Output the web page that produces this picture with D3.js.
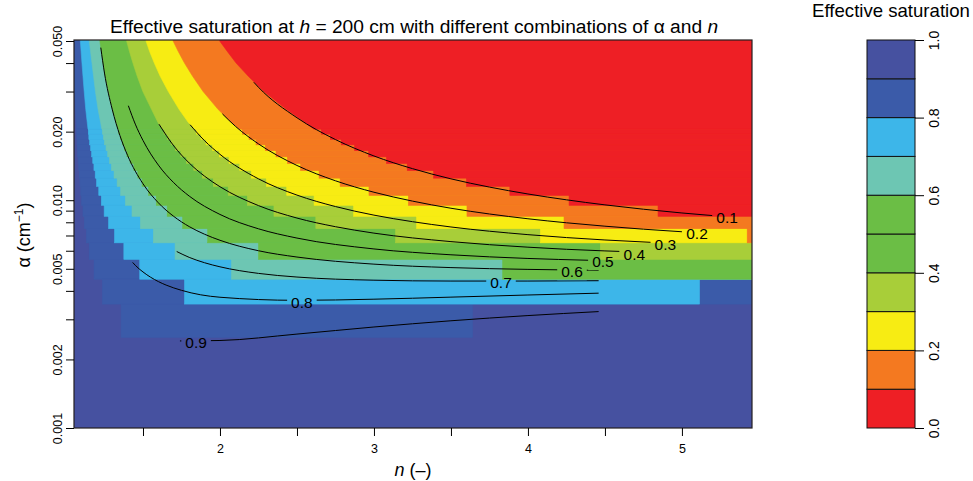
<!DOCTYPE html>
<html>
<head>
<meta charset="utf-8">
<script src="https://cdn.jsdelivr.net/npm/d3@7"></script>
<style>
body { margin: 0; background: #fff; }
text { font-family: "Liberation Sans", Arial, sans-serif; }
</style>
</head>
<body>
<div id="chart"></div>
<script>
// Effective saturation classes (0-0.1 ... 0.9-1.0)
var bandBreaks = [0, 0.1, 0.2, 0.3, 0.4, 0.5, 0.6, 0.7, 0.8, 0.9, 1.0];
var bandColors = ["#ee1f25", "#f47920", "#f7ec13", "#a8ce39", "#6bbe45",
                  "#6bbe45", "#6dc6b3", "#3db6e9", "#3b5ba9", "#4651a0"];
var barTicks = [0, 0.2, 0.4, 0.6, 0.8, 1.0];

// axes
var xTicks = [1.5, 2, 2.5, 3, 3.5, 4, 4.5, 5];
var yTicks = [0.001, 0.002, 0.003, 0.004, 0.005, 0.006, 0.007, 0.008, 0.009,
              0.01, 0.02, 0.03, 0.04, 0.05];
var yLabelled = [0.001, 0.002, 0.005, 0.01, 0.02, 0.05];

// filled classes: boundary of "Se < level", upper smooth part [n, alpha]
// and the stepped rows below it [alpha row, n from, (n to)]
var top09 = [[1.052,0.05],[1.052,0.036],[1.0562,0.03],[1.0618,0.025],[1.066,0.022],[1.068,0.0205]];
var rows09 = [[0.020,1.0685],[0.019,1.0701],[0.018,1.0717],[0.017,1.0734],[0.016,1.0755],[0.015,1.079],
  [0.014,1.0827],[0.013,1.0868],[0.012,1.0911],[0.011,1.0958],[0.010,1.1015],[0.009,1.1102],
  [0.008,1.1198],[0.007,1.1331],[0.006,1.1511],[0.005,1.1822],[0.004,1.2374],[0.003,1.3577,3.6394]];

var top08 = [[1.093,0.05],[1.0982,0.045],[1.1036,0.04],[1.1103,0.035],[1.1182,0.03],[1.1285,0.025],[1.1378,0.022],[1.143,0.0205]];
var rows08 = [[0.020,1.1448],[0.019,1.1485],[0.018,1.1537],[0.017,1.16],[0.016,1.1667],[0.015,1.1739],
  [0.014,1.1815],[0.013,1.1897],[0.012,1.1986],[0.011,1.2129],[0.010,1.2294],[0.009,1.2478],
  [0.008,1.2764],[0.007,1.3154],[0.006,1.3758],[0.005,1.479],[0.004,1.7696,5.1141]];

var top07 = [[1.1513,0.05],[1.1595,0.045],[1.1687,0.04],[1.1792,0.035],[1.1912,0.03],[1.2087,0.025],[1.2247,0.022],[1.233,0.0205]];
var rows07 = [[0.020,1.2366],[0.019,1.2431],[0.018,1.2498],[0.017,1.2601],[0.016,1.2712],[0.015,1.2829],
  [0.014,1.2954],[0.013,1.3122],[0.012,1.3321],[0.011,1.3549],[0.010,1.386],[0.009,1.4287],
  [0.008,1.4831],[0.007,1.5673],[0.006,1.7085],[0.005,2.075]];

var top06 = [[1.2198,0.05],[1.2296,0.045],[1.2406,0.04],[1.2545,0.035],[1.2756,0.03],[1.3008,0.025],[1.3249,0.022],[1.338,0.0205]];
var rows06 = [[0.020,1.3428],[0.019,1.3533],[0.018,1.3667],[0.017,1.3808],[0.016,1.3958],[0.015,1.4166],
  [0.014,1.4407],[0.013,1.4665],[0.012,1.4944],[0.011,1.5368],[0.010,1.5862],[0.009,1.6572],
  [0.008,1.7577],[0.007,1.9201],[0.006,2.2504],[0.005,3.836]];

var top04 = [[1.3938,0.05],[1.4122,0.045],[1.4347,0.04],[1.4627,0.035],[1.4992,0.03],[1.5563,0.025],[1.5965,0.022],[1.625,0.0205]];
var rows04 = [[0.020,1.6368],[0.019,1.6592],[0.018,1.6829],[0.017,1.7104],[0.016,1.7457],[0.015,1.7832],
  [0.014,1.83],[0.013,1.8854],[0.012,1.9566],[0.011,2.0532],[0.010,2.178],[0.009,2.3506],
  [0.008,2.6225],[0.007,3.1402],[0.006,4.4698]];

var top03 = [[1.5196,0.05],[1.5432,0.045],[1.5735,0.04],[1.6119,0.035],[1.6645,0.03],[1.7354,0.025],[1.7933,0.022],[1.835,0.0205]];
var rows03 = [[0.020,1.8467],[0.019,1.8766],[0.018,1.91],[0.017,1.9514],[0.016,1.9954],[0.015,2.0588],
  [0.014,2.1284],[0.013,2.2032],[0.012,2.3013],[0.011,2.4337],[0.010,2.6112],[0.009,2.8679],
  [0.008,3.277],[0.007,4.081]];

var top02 = [[1.6957,0.05],[1.7291,0.045],[1.7695,0.04],[1.8224,0.035],[1.8905,0.03],[1.9887,0.025],[2.0723,0.022],[2.127,0.0205]];
var rows02 = [[0.020,2.1456],[0.019,2.1888],[0.018,2.2343],[0.017,2.2942],[0.016,2.3639],[0.015,2.438],
  [0.014,2.5242],[0.013,2.6436],[0.012,2.7803],[0.011,2.9677],[0.010,3.2237],[0.009,3.6041],
  [0.008,4.2343],[0.007,5.4237]];

var top01 = [[1.998,0.05],[2.0477,0.045],[2.1047,0.04],[2.1841,0.035],[2.285,0.03],[2.4327,0.025],[2.5507,0.022],[2.61,0.0205]];
var rows01 = [[0.020,2.6588],[0.019,2.717],[0.018,2.7877],[0.017,2.8742],[0.016,2.9659],[0.015,3.0817],
  [0.014,3.2159],[0.013,3.3878],[0.012,3.6012],[0.011,3.8826],[0.010,4.2671],[0.009,4.8449]];

// contour lines [n, alpha]
var c01 = [[2.22,0.03294],[2.25,0.03132],[2.5,0.02301],[2.75,0.01846],[3,0.01564],[3.25,0.01376],[3.5,0.01241],
  [3.75,0.01142],[4,0.01065],[4.25,0.01004],[4.5,0.00954],[4.75,0.00913],[5,0.00879],[5.2,0.00856]];
var c02 = [[2.016,0.02393],[2.1,0.02112],[2.25,0.01767],[2.5,0.01421],[2.75,0.01217],[3,0.01084],[3.25,0.00991],
  [3.5,0.00922],[3.75,0.0087],[4,0.00829],[4.25,0.00796],[4.5,0.00769],[4.75,0.00746],[5,0.00727]];
var c03 = [[1.806,0.02145],[1.9,0.01825],[2,0.0159],[2.25,0.01241],[2.5,0.01053],[2.75,0.00938],[3,0.0086],
  [3.25,0.00805],[3.5,0.00763],[4,0.00706],[4.5,0.00669],[4.806,0.00653]];
var c04 = [[1.604,0.02156],[1.7,0.01731],[1.8,0.01457],[1.9,0.01275],[2,0.01146],[2.25,0.00947],[2.5,0.00835],
  [2.75,0.00765],[3,0.00717],[3.5,0.00658],[4,0.00622],[4.5,0.00599],[4.595,0.00596]];
var c05 = [[1.405,0.02599],[1.45,0.02158],[1.5,0.0183],[1.6,0.01426],[1.7,0.01193],[1.8,0.01043],[2,0.00866],
  [2.25,0.00749],[2.5,0.00682],[3,0.00611],[3.5,0.00576],[4,0.00555],[4.394,0.00545]];
var c06 = [[1.226,0.04677],[1.25,0.03616],[1.3,0.02511],[1.35,0.01925],[1.4,0.01573],[1.5,0.01181],[1.6,0.00974],
  [1.7,0.00849],[1.8,0.00766],[1.9,0.00709],[2,0.00667],[2.25,0.006],[2.5,0.00563],[3,0.00524],[3.5,0.00506],
  [4,0.00497],[4.459,0.00492]];
var c07 = [[1.719,0.005954],[1.8,0.005612],[1.9,0.005315],[2,0.005101],[2.25,0.004772],[2.5,0.0046],[3,0.004455],
  [3.5,0.004417],[4,0.004417],[4.459,0.004432]];
var c08 = [[1.433,0.005332],[1.45,0.005179],[1.5,0.004843],[1.55,0.004589],[1.6,0.004393],[1.65,0.004241],
  [1.75,0.004022],[2,0.00375],[2.5,0.003635],[3,0.003677],[3.5,0.003754],[4,0.003836],[4.459,0.003908]];
var c09 = [[1.74,0.002411],[2,0.002422],[2.5,0.002584],[3,0.002776],[3.5,0.002956],[4,0.003116],[4.459,0.003244]];

// contour labels [text, n, alpha]
var contourLabels = [["0.1",5.293,0.008413],["0.2",5.098,0.007157],["0.3",4.892,0.006404],["0.4",4.691,0.005788],
  ["0.5",4.487,0.005372],["0.6",4.286,0.004855],["0.7",3.825,0.004343],["0.8",2.532,0.003563],["0.9",1.845,0.002368]];

var fills = [
  {lev: 0.9, top: top09, rows: rows09},
  {lev: 0.8, top: top08, rows: rows08},
  {lev: 0.7, top: top07, rows: rows07},
  {lev: 0.6, top: top06, rows: rows06},
  {lev: 0.4, top: top04, rows: rows04},
  {lev: 0.3, top: top03, rows: rows03},
  {lev: 0.2, top: top02, rows: rows02},
  {lev: 0.1, top: top01, rows: rows01}
];
var contours = [c01, c02, c03, c04, c05, c06, c07, c08, c09];

var w = 973, h = 481;
var nMin = 1.052, nMax = 5.455;
var halfRow = 0.0005;
var fontFam = "Liberation Sans, Arial, sans-serif";

var svg = d3.select("#chart").append("svg").attr("width", w).attr("height", h);
var defs = svg.append("defs");

var x = d3.scaleLinear().domain([nMin, nMax]).range([74, 752]);
var y = d3.scaleLog().domain([0.001, 0.05]).range([428, 41]);

defs.append("clipPath").attr("id", "plotclip")
  .append("rect").attr("x", 74).attr("y", 40).attr("width", 678).attr("height", 388);

var plot = svg.append("g").attr("clip-path", "url(#plotclip)");
plot.append("rect").attr("x", 74).attr("y", 40).attr("width", 678).attr("height", 388)
  .attr("fill", bandColors[9]);

var pline = d3.line().x(function(d) { return x(d[0]); }).y(function(d) { return y(d[1]); });

// paint each "Se < level" region on top of the previous one
fills.forEach(function(f) {
  var col = bandColors[Math.round(f.lev * 10) - 1];
  var last = f.top[f.top.length - 1];
  var poly = [[f.top[0][0], 0.051]].concat(f.top, [[nMax + 0.1, last[1]], [nMax + 0.1, 0.051]]);
  plot.append("path").attr("d", pline(poly) + "Z")
    .attr("fill", col).attr("stroke", col).attr("stroke-width", 0.6);
  plot.append("g").selectAll("rect").data(f.rows).enter().append("rect")
    .attr("x", function(d) { return x(d[1]); })
    .attr("width", function(d) { return x(d.length > 2 ? d[2] : nMax + 0.1) - x(d[1]); })
    .attr("y", function(d) { return y(d[0] + halfRow); })
    .attr("height", function(d) { return y(d[0] - halfRow) - y(d[0] + halfRow); })
    .attr("fill", col).attr("stroke", col).attr("stroke-width", 0.6);
});

// contour labels (drawn first so the mask can be sized from them)
var lblG = svg.append("g");
contourLabels.forEach(function(l) {
  lblG.append("text").attr("x", x(l[1])).attr("y", y(l[2])).attr("dy", "0.36em")
    .attr("text-anchor", "middle").attr("font-size", 15.5).attr("fill", "#000").text(l[0]);
});

var mask = defs.append("mask").attr("id", "lblmask").attr("maskUnits", "userSpaceOnUse")
  .attr("x", 0).attr("y", 0).attr("width", w).attr("height", h);
mask.append("rect").attr("x", 0).attr("y", 0).attr("width", w).attr("height", h).attr("fill", "#fff");
lblG.selectAll("text").each(function() {
  var b = this.getBBox();
  mask.append("rect").attr("x", b.x - 4).attr("y", b.y).attr("width", b.width + 8).attr("height", b.height)
    .attr("fill", "#000");
});

var cline = d3.line().x(function(d) { return x(d[0]); }).y(function(d) { return y(d[1]); })
  .curve(d3.curveMonotoneX);
var cg = svg.append("g").attr("mask", "url(#lblmask)").attr("clip-path", "url(#plotclip)");
contours.forEach(function(c) {
  cg.append("path").attr("d", cline(c)).attr("fill", "none").attr("stroke", "#000").attr("stroke-width", 1);
});

// frame
svg.append("rect").attr("x", 74).attr("y", 40).attr("width", 678).attr("height", 388)
  .attr("fill", "none").attr("stroke", "#231f20").attr("stroke-width", 1.2);

// x axis
var xAxis = svg.append("g").attr("transform", "translate(0,428)")
  .call(d3.axisBottom(x).tickValues(xTicks).tickSize(8).tickPadding(8)
    .tickFormat(function(d) { return d % 1 === 0 ? d : ""; }));
xAxis.select(".domain").remove();
xAxis.attr("font-family", fontFam).attr("font-size", 12.5);

// y axis
var yAxis = svg.append("g").attr("transform", "translate(74,0)")
  .call(d3.axisLeft(y).tickValues(yTicks).tickSize(8)
    .tickFormat(function(d) { return yLabelled.indexOf(d) >= 0 ? d3.format(".3f")(d) : ""; }));
yAxis.select(".domain").remove();
yAxis.attr("font-family", fontFam).attr("font-size", 12.5);
yAxis.selectAll(".tick text").attr("x", 0).attr("y", -12).attr("dy", 0)
  .attr("transform", "rotate(-90)").attr("text-anchor", "middle");

// axis titles
svg.append("text").attr("x", 413).attr("y", 476).attr("text-anchor", "middle").attr("font-size", 18)
  .call(function(t) {
    t.append("tspan").attr("font-style", "italic").text("n");
    t.append("tspan").text(" (\u2013)");
  });
svg.append("text").attr("transform", "translate(30,235) rotate(-90)").attr("text-anchor", "middle")
  .attr("font-size", 18)
  .call(function(t) {
    t.append("tspan").text("\u03b1 (cm");
    t.append("tspan").attr("font-size", 12).attr("dy", -7).text("\u22121");
    t.append("tspan").attr("dy", 7).text(")");
  });

// title
svg.append("text").attr("x", 414).attr("y", 33).attr("text-anchor", "middle").attr("font-size", 19.2)
  .call(function(t) {
    t.append("tspan").text("Effective saturation at ");
    t.append("tspan").attr("font-style", "italic").text("h");
    t.append("tspan").text(" = 200 cm with different combinations of \u03b1 and ");
    t.append("tspan").attr("font-style", "italic").text("n");
  });

// colour bar
var cb = d3.scaleLinear().domain([0, 1]).range([428, 40]);
svg.append("g").selectAll("rect").data(bandColors).enter().append("rect")
  .attr("x", 867).attr("width", 48)
  .attr("y", function(d, i) { return cb(bandBreaks[i + 1]); })
  .attr("height", function(d, i) { return cb(bandBreaks[i]) - cb(bandBreaks[i + 1]); })
  .attr("fill", function(d) { return d; })
  .attr("stroke", "#111").attr("stroke-width", 1);

var cbAxis = svg.append("g").attr("transform", "translate(915,0)")
  .call(d3.axisRight(cb).tickValues(barTicks).tickSize(9).tickFormat(d3.format(".1f")));
cbAxis.select(".domain").remove();
cbAxis.attr("font-family", fontFam).attr("font-size", 14);
cbAxis.selectAll(".tick text").attr("x", 0).attr("y", 24).attr("dy", 0)
  .attr("transform", "rotate(-90)").attr("text-anchor", "middle");

svg.append("text").attr("x", 891).attr("y", 17).attr("text-anchor", "middle").attr("font-size", 18.6)
  .text("Effective saturation");
</script>
</body>
</html>
